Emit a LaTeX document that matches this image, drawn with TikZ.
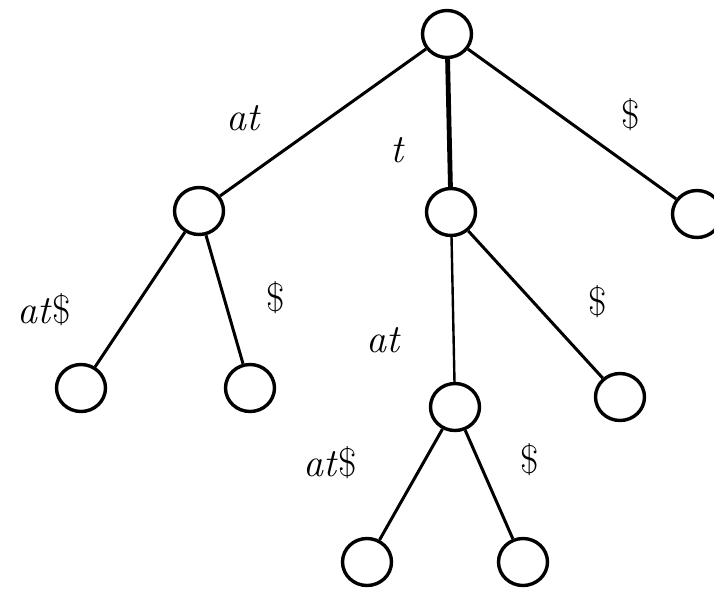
\documentclass[tikz,border=0pt]{standalone}
\usepackage{fontspec}
\usetikzlibrary{shapes.geometric}
\begin{document}
\begin{tikzpicture}[x=1pt,y=-1pt,
  tnode/.style={ellipse,draw,line width=3.4pt,minimum width=49pt,minimum height=47pt,inner sep=0pt},
  edge/.style={line width=3pt},
  lbl/.style={font=\fontsize{40}{46}\selectfont,inner sep=0pt}]
\useasboundingbox (0,0) rectangle (714,589);
\clip (0,0) rectangle (714,589);
\node[tnode] (r) at (447,34) {};
\node[tnode] (a) at (199,211) {};
\node[tnode] (m) at (451,212) {};
\node[tnode] (c) at (697,214) {};
\node[tnode] (a1) at (81,388) {};
\node[tnode] (a2) at (250,388) {};
\node[tnode] (m1) at (455,407) {};
\node[tnode] (m2) at (620,397) {};
\node[tnode] (b1) at (367,562) {};
\node[tnode] (b2) at (523,562) {};
\draw[edge] (r) -- (a);
\draw[line width=4.8pt] (r) -- (m);
\draw[edge] (r) -- (c);
\draw[edge] (a) -- (a1);
\draw[edge] (a) -- (a2);
\draw[line width=2.4pt] (m) -- (m1);
\draw[edge] (m) -- (m2);
\draw[edge] (m1) -- (b1);
\draw[edge] (m1) -- (b2);
\node[lbl] (l1) at (243,118) {\itshape at};
\node[lbl] (l2) at (397,150) {\itshape t};
\node[lbl] (l3) at (631,115) {\$};
\node[lbl] (l4) at (44,310) {\itshape at\kern2pt\upshape\$};
\node[lbl] (l5) at (276,298) {\$};
\node[lbl] (l6) at (383,340) {\itshape at};
\node[lbl] (l7) at (598,302) {\$};
\node[lbl] (l8) at (330,463) {\itshape at\kern2pt\upshape\$};
\node[lbl] (l9) at (530,460) {\$};
\end{tikzpicture}
\end{document}
